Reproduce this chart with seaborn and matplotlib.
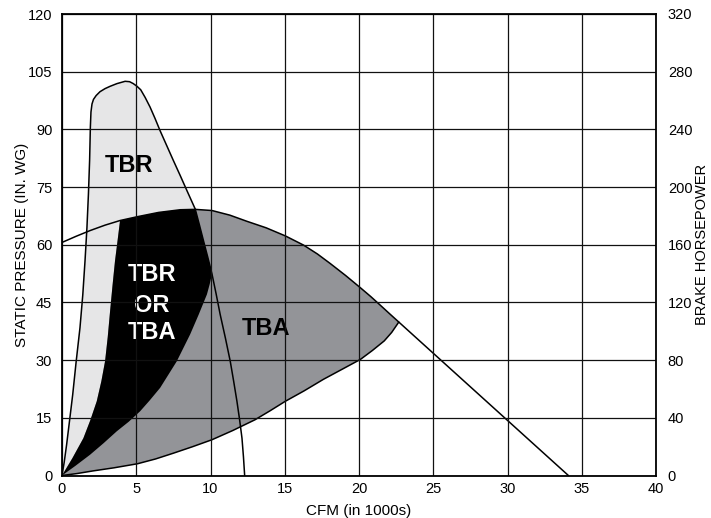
import matplotlib
matplotlib.use("Agg")
import matplotlib.pyplot as plt
import seaborn as sns
import pandas as pd

# ---------------- data ----------------
# TBR fan envelope (CFM in 1000s, static pressure in. WG)
tbr_x = [0, 0.15, 0.31, 0.5, 0.72, 0.95, 1.21, 1.4, 1.55, 1.68, 1.78, 1.86, 1.91, 1.95,
         2.02, 2.12, 2.3, 2.56, 2.9, 3.24, 3.7, 4.25, 4.55, 4.8, 5.05, 5.3, 5.6, 5.93,
         6.27, 6.6, 7.05, 7.5, 7.96, 8.41, 8.97, 9.25, 9.53, 9.82, 10.1, 10.38, 10.65,
         11.0, 11.33, 11.56, 11.78, 11.96, 12.12, 12.22, 12.3]
tbr_y = [0, 3.5, 8.0, 14.0, 21.0, 29.5, 38.4, 47.0, 55.8, 64.5, 73.2, 82.0, 90.6, 94.5,
         96.6, 97.8, 98.8, 99.8, 100.6, 101.2, 101.9, 102.5, 102.4, 101.9, 101.2, 100.3, 98.3, 95.8,
         92.8, 89.7, 85.8, 81.9, 78.0, 74.1, 69.3, 65.2, 61.0, 56.7, 52.4, 47.2, 41.9,
         35.8, 29.7, 24.5, 19.3, 14.5, 9.7, 4.8, 0]

# TBA envelope: upper curve, lower curve and run-out line
tba_up_x = [0, 0.95, 1.9, 2.9, 3.91, 5.08, 6.5, 7.96, 8.97, 10.1, 11.3, 12.45, 13.75,
            15.04, 16.27, 17.2, 18.07, 19.1, 20.1, 20.8, 21.4, 22.05, 22.68]
tba_up_y = [60.6, 62.2, 63.7, 65.1, 66.3, 67.3, 68.4, 69.1, 69.2, 68.9, 67.7, 66.1, 64.4,
            62.3, 59.9, 57.6, 55.1, 52.0, 48.8, 46.5, 44.4, 42.1, 39.9]
tba_lo_x = [0, 1.0, 2.1, 3.5, 5.08, 6.3, 7.5, 8.8, 10.1, 11.5, 13.0, 14.0, 15.04, 16.3,
            17.6, 18.9, 20.1, 20.9, 21.7, 22.2, 22.68]
tba_lo_y = [0, 0.5, 1.2, 2.0, 3.05, 4.3, 5.8, 7.5, 9.3, 11.7, 14.5, 16.8, 19.3, 22.0,
            25.0, 27.7, 30.2, 32.5, 35.0, 37.2, 39.9]
tail_x = [22.68, 34.1]
tail_y = [39.9, 0]

# Overlap (TBR or TBA) region edges
both_left_x = [0, 0.7, 1.44, 1.9, 2.34, 2.65, 2.9, 3.08, 3.24, 3.4, 3.57, 3.74, 3.91]
both_left_y = [0, 4.5, 9.7, 14.3, 19.3, 24.5, 29.7, 36.0, 42.8, 49.3, 55.8, 61.0, 66.3]
both_low_x = [10.1, 9.95, 9.76, 9.2, 8.63, 7.73, 6.61, 5.9, 5.26, 4.5, 3.69, 2.8, 1.89, 0.9, 0]
both_low_y = [52.4, 49.8, 47.1, 41.8, 36.7, 29.7, 22.8, 19.5, 16.7, 14.0, 11.5, 8.4, 5.4, 2.5, 0]

x_ticks = [0, 5, 10, 15, 20, 25, 30, 35, 40]
y_ticks = [0, 15, 30, 45, 60, 75, 90, 105, 120]
bhp_ticks = [0, 40, 80, 120, 160, 200, 240, 280, 320]

# ---------------- style ----------------
sns.set_theme(style="white")
plt.rcParams['font.family'] = ['Liberation Sans', 'DejaVu Sans']

LIGHT = "#e6e6e7"
MID = "#939498"

fig = plt.figure(figsize=(7.11, 5.18), dpi=100)
ax = fig.add_axes([62 / 711, (518 - 475.5) / 518, 594 / 711, 461.5 / 518])

# --- polygons ---
# light gray TBR part (left strip + top), cut along the overlap's lower edge
i_cut = tbr_x.index(10.1)
lg_x = tbr_x[:i_cut + 1] + both_low_x[1:]
lg_y = tbr_y[:i_cut + 1] + both_low_y[1:]
ax.fill(lg_x, lg_y, color=LIGHT, lw=0, zorder=1)

# TBA gray region
j0 = tba_up_x.index(3.91)
tba_px = tba_lo_x + tba_up_x[::-1][:len(tba_up_x) - j0 - 1] + both_left_x[::-1]
tba_py = tba_lo_y + tba_up_y[::-1][:len(tba_up_y) - j0 - 1] + both_left_y[::-1]
ax.fill(tba_px, tba_py, color=MID, lw=0, zorder=1.1)

# black overlap
j1 = tba_up_x.index(8.97)
k0 = tbr_x.index(8.97)
bl_x = both_left_x + tba_up_x[j0 + 1:j1 + 1] + tbr_x[k0 + 1:i_cut + 1] + both_low_x[1:]
bl_y = both_left_y + tba_up_y[j0 + 1:j1 + 1] + tbr_y[k0 + 1:i_cut + 1] + both_low_y[1:]
ax.fill(bl_x, bl_y, color="black", lw=0, zorder=1.2)

# --- outline curves via seaborn ---
def curve(xs, ys):
    df = pd.DataFrame({"x": xs, "y": ys})
    sns.lineplot(data=df, x="x", y="y", sort=False, estimator=None,
                 color="black", lw=1.1, ax=ax, zorder=2)

curve(tbr_x, tbr_y)
curve(tba_up_x + tail_x[1:], tba_up_y + tail_y[1:])
curve(tba_lo_x, tba_lo_y)

# --- region labels ---
ax.text(4.48, 80.6, "TBR", fontsize=17, fontweight="bold", ha="center", va="center",
        color="black", zorder=2.2)
for yy, s in [(52.3, "TBR"), (44.2, "OR"), (37.3, "TBA")]:
    ax.text(6.07, yy, s, fontsize=17, fontweight="bold", ha="center", va="center",
            color="white", zorder=2.2)
ax.text(13.76, 38.2, "TBA", fontsize=17, fontweight="bold", ha="center", va="center",
        color="black", zorder=2.2)

# --- axes ---
ax.set_xlim(0, 40)
ax.set_ylim(0, 120)
ax.set_xticks(x_ticks)
ax.set_yticks(y_ticks)
ax.set_xlabel("CFM (in 1000s)", fontsize=11, color="black", labelpad=6)
ax.set_ylabel("STATIC PRESSURE (IN. WG)", fontsize=11, color="black")
ax.yaxis.set_label_coords(-0.056, 0.5)
ax.tick_params(axis="both", length=0, labelsize=10.5, colors="black")
ax.tick_params(axis="x", pad=4.5)
ax.tick_params(axis="y", pad=7)
ax.set_axisbelow(False)
ax.grid(True, color="#111111", lw=0.9, zorder=2.5)
for sp in ax.spines.values():
    sp.set_visible(True)
    sp.set_color("black")
    sp.set_linewidth(1.3)
    sp.set_zorder(3)

ax2 = ax.twinx()
ax2.set_ylim(0, 320)
ax2.set_yticks(bhp_ticks)
ax2.tick_params(axis="y", length=0, labelsize=10.5, colors="black", pad=8.5)
ax2.set_ylabel("BRAKE HORSEPOWER", fontsize=10.5, color="black", rotation=90)
ax2.yaxis.set_label_coords(1.066, 0.5)
ax2.grid(False)
for sp in ax2.spines.values():
    sp.set_visible(False)

fig.savefig("out.png", dpi=100)
